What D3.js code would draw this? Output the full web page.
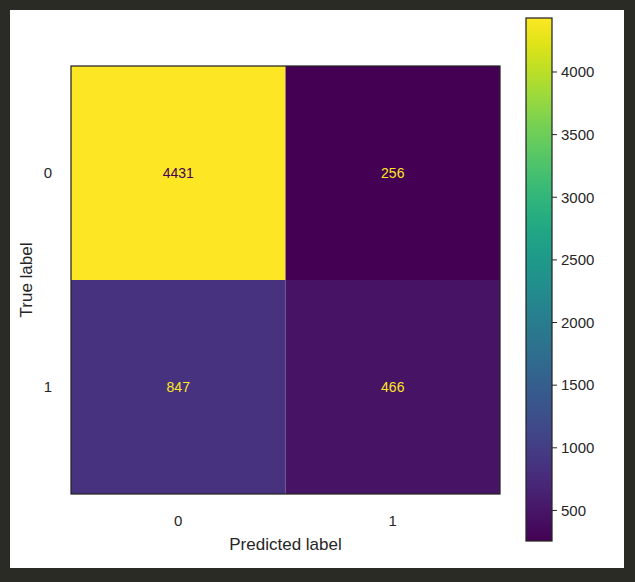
<!DOCTYPE html>
<html><head><meta charset="utf-8">
<script src="https://cdn.jsdelivr.net/npm/d3@7"></script>
<style>body{margin:0;background:#2b2b26;}svg{display:block}</style>
</head><body>
<svg id="c" width="635" height="582"></svg>
<script>
const classes = ["0","1"];
const matrix = [[4431,256],[847,466]];
const cbTicks = [500,1000,1500,2000,2500,3000,3500,4000];
const xLabel = "Predicted label", yLabel = "True label";

const svg = d3.select("#c");
svg.append("rect").attr("x",10).attr("y",10).attr("width",614).attr("height",558).attr("fill","#fff");
const font = "Liberation Sans, Arial, sans-serif";
const vals = matrix.flat();
const vmin = d3.min(vals), vmax = d3.max(vals);
const color = d3.scaleSequential(d3.interpolateViridis).domain([vmin,vmax]);
const x = d3.scaleBand().domain(classes).range([71,500]);
const y = d3.scaleBand().domain(classes).range([66,494]);
matrix.forEach((row,i)=>row.forEach((v,j)=>{
  svg.append("rect").attr("x",x(classes[j])).attr("y",y(classes[i])).attr("width",x.bandwidth()).attr("height",y.bandwidth()).attr("fill",color(v));
  svg.append("text").attr("x",x(classes[j])+x.bandwidth()/2).attr("y",y(classes[i])+y.bandwidth()/2).attr("dy","0.35em")
    .attr("text-anchor","middle").attr("font-family",font).attr("font-size",14)
    .attr("fill", v > (vmin+vmax)/2 ? color(vmin) : color(vmax)).text(v);
}));
svg.append("rect").attr("x",71).attr("y",66).attr("width",429).attr("height",428).attr("fill","none").attr("stroke","#262626").attr("stroke-width",1.25);
classes.forEach(c=>{
  svg.append("text").attr("x",x(c)+x.bandwidth()/2).attr("y",526).attr("text-anchor","middle").attr("font-family",font).attr("font-size",15).attr("fill","#262626").text(c);
  svg.append("text").attr("x",52).attr("y",y(c)+y.bandwidth()/2).attr("dy","0.35em").attr("text-anchor","end").attr("font-family",font).attr("font-size",15).attr("fill","#262626").text(c);
});
svg.append("text").attr("x",285.5).attr("y",550).attr("text-anchor","middle").attr("font-family",font).attr("font-size",17).attr("fill","#262626").text(xLabel);
svg.append("text").attr("transform","translate(32,280) rotate(-90)").attr("text-anchor","middle").attr("font-family",font).attr("font-size",17).attr("fill","#262626").text(yLabel);
// colorbar
const cb = d3.scaleLinear().domain([vmin,vmax]).range([541,18]);
const defs = svg.append("defs");
const g = defs.append("linearGradient").attr("id","g").attr("x1",0).attr("y1",1).attr("x2",0).attr("y2",0);
d3.range(0,1.001,0.05).forEach(t=>g.append("stop").attr("offset",t).attr("stop-color",d3.interpolateViridis(t)));
svg.append("rect").attr("x",526).attr("y",18).attr("width",26).attr("height",523).attr("fill","url(#g)").attr("stroke","#262626").attr("stroke-width",1.25);
cbTicks.forEach(t=>{
  svg.append("line").attr("x1",552).attr("x2",557).attr("y1",cb(t)).attr("y2",cb(t)).attr("stroke","#262626");
  svg.append("text").attr("x",561).attr("y",cb(t)).attr("dy","0.35em").attr("font-family",font).attr("font-size",15).attr("fill","#262626").text(t);
});
</script></body></html>
